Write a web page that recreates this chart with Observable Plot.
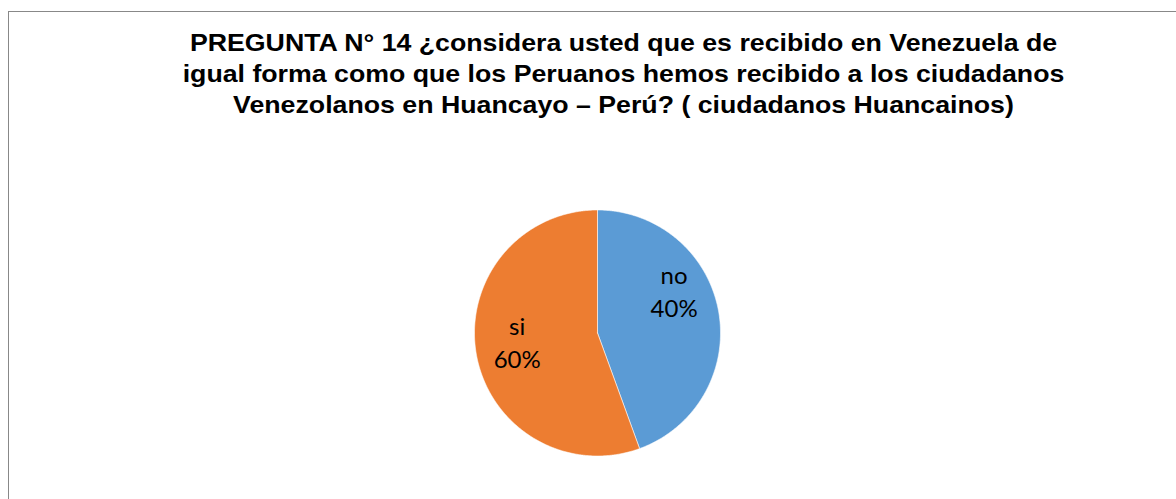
<!DOCTYPE html>
<html>
<head>
<meta charset="utf-8">
<script src="https://cdn.jsdelivr.net/npm/d3@7"></script>
<script src="https://cdn.jsdelivr.net/npm/@observablehq/plot@0.6"></script>
<style>
  html, body { margin: 0; padding: 0; background: #fff; width: 1176px; height: 499px; overflow: hidden; }
  #frame { position: absolute; left: 8px; top: 11px; width: 1240px; height: 540px; border: 1px solid #888888; box-sizing: border-box; }
  #title { position: absolute; left: 8px; top: 27px; width: 1231px; text-align: center;
           font-family: "Liberation Sans", Arial, sans-serif; font-weight: bold; font-size: 24px; line-height: 31px;
           transform: scaleX(1.113); transform-origin: 615.5px 0; color: #000; }
  #chart { position: absolute; left: 0; top: 0; }
</style>
</head>
<body>
<div id="frame"></div>
<div id="chart"></div>
<div id="title">PREGUNTA N° 14 ¿considera usted que es recibido en Venezuela de<br>igual forma como que los Peruanos hemos recibido a los ciudadanos<br>Venezolanos en Huancayo – Perú? ( ciudadanos Huancainos)</div>
<script>
// Data
const categories = ["no", "si"];
const values = [4, 5];
const labelTexts = ["40%", "60%"];
const colors = ["#5B9BD5", "#ED7D31"];

// Build slices (start at 12 o'clock, clockwise, in data order)
const arcs = d3.pie().sort(null).value(d => d.value)(
  categories.map((c, i) => ({category: c, value: values[i], label: labelTexts[i]}))
);

const pts = [];
for (const a of arcs) {
  const cat = a.data.category;
  pts.push({category: cat, x: 0, y: 0});
  const n = Math.max(2, Math.ceil((a.endAngle - a.startAngle) / (Math.PI / 360)));
  for (let k = 0; k <= n; k++) {
    const t = a.startAngle + (a.endAngle - a.startAngle) * k / n;
    pts.push({category: cat, x: Math.sin(t), y: Math.cos(t)});
  }
  pts.push({category: cat, x: 0, y: 0});
}

// label placement (Excel best-fit style)
const labelAngleShift = {no: -0.30, si: 0.03};
const labelRadius = {no: 0.70, si: 0.66};
const labels = arcs.map(a => {
  const cat = a.data.category;
  const m = (a.startAngle + a.endAngle) / 2 + labelAngleShift[cat];
  return {category: cat, text: cat + "\n" + a.data.label, x: Math.sin(m) * labelRadius[cat], y: Math.cos(m) * labelRadius[cat]};
});

const cx = 597, cy = 332.5, r = 123;
const W = 1176, H = 499;

const chart = Plot.plot({
  width: W,
  height: H,
  marginLeft: cx - r,
  marginRight: W - (cx + r),
  marginTop: cy - r,
  marginBottom: H - (cy + r),
  x: {domain: [-1, 1], axis: null},
  y: {domain: [-1, 1], axis: null},
  color: {domain: categories, range: colors},
  style: {background: "transparent", overflow: "visible"},
  marks: [
    Plot.line(pts, {x: "x", y: "y", z: "category", fill: "category", stroke: "white", strokeWidth: 0.8, strokeOpacity: 0.7, curve: "linear"}),
    Plot.text(labels, {x: "x", y: "y", text: "text", fill: "#000", fontSize: 24, lineHeight: 1.35, dy: -3.5,
      fontFamily: "Lato, 'Open Sans', sans-serif"})
  ]
});
document.getElementById("chart").appendChild(chart);
</script>
</body>
</html>
